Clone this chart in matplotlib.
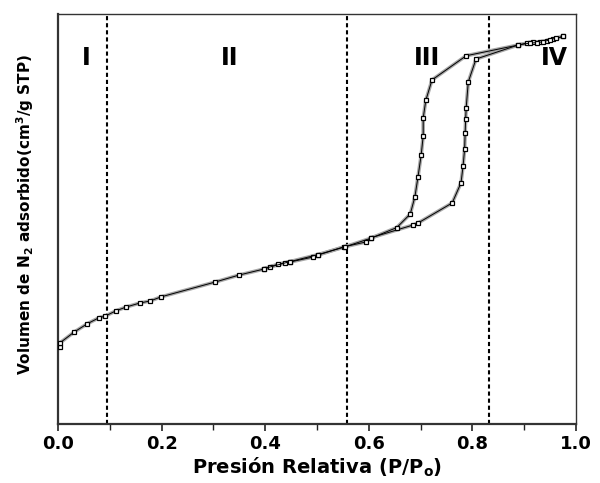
import matplotlib
matplotlib.use("Agg")
import matplotlib.pyplot as plt
from matplotlib.ticker import MultipleLocator

# adsorption branch (relative pressure, volume in arbitrary units)
ads_p = [0.004, 0.004, 0.031, 0.056, 0.079, 0.091, 0.112, 0.131, 0.158, 0.178, 0.199,
         0.303, 0.349, 0.398, 0.409, 0.425, 0.438, 0.448, 0.492, 0.502,
         0.552, 0.595, 0.604, 0.685, 0.695,
         0.761, 0.778, 0.782, 0.785, 0.786, 0.787, 0.788, 0.792, 0.807,
         0.888, 0.905, 0.917, 0.931, 0.944, 0.956, 0.975]
ads_v = [18.8, 19.8, 22.4, 24.4, 25.9, 26.3, 27.6, 28.5, 29.5, 30.0, 31.0,
         34.6, 36.3, 37.8, 38.3, 39.0, 39.3, 39.5, 40.7, 41.2,
         43.2, 44.4, 45.4, 48.5, 49.0,
         53.9, 58.8, 62.9, 67.1, 71.0, 74.4, 77.1, 83.4, 89.0,
         92.4, 92.9, 93.2, 93.2, 93.5, 93.8, 94.5]

# desorption branch
des_p = [0.975, 0.961, 0.950, 0.936, 0.925, 0.911, 0.888, 0.788, 0.722, 0.710, 0.705,
         0.705, 0.701, 0.695, 0.689, 0.680, 0.654, 0.604, 0.554, 0.502, 0.448, 0.398]
des_v = [94.5, 94.1, 93.7, 93.2, 93.0, 92.9, 92.4, 89.8, 83.9, 78.9, 74.6,
         70.2, 65.5, 60.3, 55.4, 51.2, 47.9, 45.3, 43.2, 41.3, 39.6, 37.9]

# region limits and labels
limits = [0.095, 0.558, 0.832]
regions = ["I", "II", "III", "IV"]
region_x = [0.054, 0.332, 0.712, 0.958]

fig = plt.figure(figsize=(6.0, 4.83), dpi=100)
ax = fig.add_axes([0.0967, 0.1222, 0.8633, 0.849])

for p, v in [(ads_p, ads_v), (des_p, des_v)]:
    ax.plot(p, v, color="#a8a8a8", lw=2.6, zorder=2)
    ax.plot(p, v, color="black", lw=0.7, marker="s", ms=3.4, mfc="white",
            mec="black", mew=0.9, zorder=3)

for x in limits:
    ax.axvline(x, color="black", lw=1.5, ls=(0, (2, 1.4)), zorder=1)

for x, t in zip(region_x, regions):
    ax.text(x, 89.3, t, ha="center", va="center", fontsize=17,
            fontweight="bold", family="DejaVu Sans")

ax.set_xlim(0, 1.0)
ax.set_ylim(0, 100)
ax.xaxis.set_major_locator(MultipleLocator(0.2))
ax.xaxis.set_minor_locator(MultipleLocator(0.1))
ax.set_xticks([0.0, 0.2, 0.4, 0.6, 0.8, 1.0])
ax.set_xticklabels(["0.0", "0.2", "0.4", "0.6", "0.8", "1.0"],
                   fontsize=13, fontweight="bold", family="DejaVu Sans")
ax.tick_params(axis="x", which="major", length=5, width=1.2, pad=3, color="#222222")
ax.tick_params(axis="x", which="minor", length=4, width=1.0, color="#222222")
ax.set_yticks([])

for s in ax.spines.values():
    s.set_color("#333333")
    s.set_linewidth(1.0)
ax.spines["left"].set_linewidth(1.6)
ax.spines["bottom"].set_linewidth(1.6)

ax.set_xlabel("Presión Relativa (P/P$_\\mathregular{o}$)", fontsize=14,
              fontweight="bold", family="DejaVu Sans", labelpad=2)
ax.set_ylabel("Volumen de N$_\\mathregular{2}$ adsorbido(cm$^\\mathregular{3}$/g STP)",
              fontsize=11, fontweight="bold", family="DejaVu Sans")
ax.yaxis.set_label_coords(-0.042, 0.51)

fig.savefig("out.png", dpi=100)
